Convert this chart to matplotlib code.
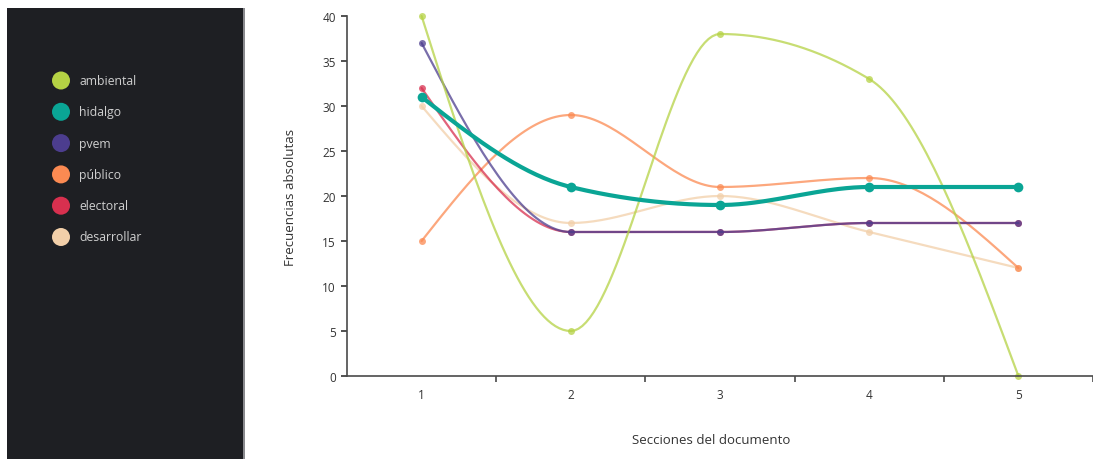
import numpy as np
import matplotlib
matplotlib.use("Agg")
import matplotlib.pyplot as plt
from matplotlib.patches import Rectangle, Ellipse

# ---- data ----
sections = [1, 2, 3, 4, 5]
series_names = ["ambiental", "hidalgo", "pvem", "público", "electoral", "desarrollar"]
ambiental = [40, 5, 38, 33, 0]
hidalgo = [31, 21, 19, 21, 21]
pvem = [37, 16, 16, 17, 17]
publico = [15, 29, 21, 22, 12]
electoral = [32, 16, 16, 17, 17]
desarrollar = [30, 17, 20, 16, 12]
y_ticks = [0, 5, 10, 15, 20, 25, 30, 35, 40]

colors = {
    "ambiental": "#b5d244",
    "hidalgo": "#0aa595",
    "pvem": "#4c3d8e",
    "público": "#fb8a52",
    "electoral": "#d8304f",
    "desarrollar": "#f2cfa9",
}
values = {
    "ambiental": ambiental,
    "hidalgo": hidalgo,
    "pvem": pvem,
    "público": publico,
    "electoral": electoral,
    "desarrollar": desarrollar,
}


def monotone_x(xs, ys, n=40):
    """d3.curveMonotoneX sampled."""
    xs = np.asarray(xs, float)
    ys = np.asarray(ys, float)
    m = len(xs)
    h = np.diff(xs)
    s = np.diff(ys) / h
    t = np.zeros(m)
    for i in range(1, m - 1):
        h0, h1 = h[i - 1], h[i]
        s0, s1 = s[i - 1], s[i]
        p = (s0 * h1 + s1 * h0) / (h0 + h1)
        t[i] = (np.sign(s0) + np.sign(s1)) * min(abs(s0), abs(s1), 0.5 * abs(p))
    t[0] = (3 * s[0] - t[1]) / 2
    t[-1] = (3 * s[-1] - t[-2]) / 2
    X, Y = [], []
    for i in range(m - 1):
        dx = h[i]
        x0, x1 = xs[i], xs[i + 1]
        p0 = (x0, ys[i])
        p1 = (x0 + dx / 3, ys[i] + dx * t[i] / 3)
        p2 = (x1 - dx / 3, ys[i + 1] - dx * t[i + 1] / 3)
        p3 = (x1, ys[i + 1])
        u = np.linspace(0, 1, n)
        bx = (1 - u) ** 3 * p0[0] + 3 * (1 - u) ** 2 * u * p1[0] + 3 * (1 - u) * u ** 2 * p2[0] + u ** 3 * p3[0]
        by = (1 - u) ** 3 * p0[1] + 3 * (1 - u) ** 2 * u * p1[1] + 3 * (1 - u) * u ** 2 * p2[1] + u ** 3 * p3[1]
        X.extend(bx)
        Y.extend(by)
    return np.array(X), np.array(Y)


W, H = 1093, 460
fig = plt.figure(figsize=(W / 100, H / 100), dpi=100)
fig.patch.set_facecolor("white")

# dark legend panel
fig.patches.append(Rectangle((7 / W, 0), (243 - 7) / W, (H - 9) / H,
                             transform=fig.transFigure, facecolor="#1e1f23",
                             edgecolor="none", zorder=0))
fig.patches.append(Rectangle((243 / W, 0), 2 / W, (H - 9) / H,
                             transform=fig.transFigure, facecolor="#8a8a8e",
                             edgecolor="none", zorder=0))

# legend
leg_y0 = 81.5
for i, name in enumerate(series_names):
    yc = leg_y0 + i * 31.3
    fig.patches.append(Ellipse((61 / W, 1 - yc / H), 18 / W, 18 / H, transform=fig.transFigure,
                               facecolor=colors[name], edgecolor="none"))
    fig.text(79 / W, 1 - yc / H, name, color="#cfcfcf", fontsize=8.8,
             family="Open Sans", va="center", ha="left")

# plot axes
left_px, bottom_px, top_px = 347, 377, 17
unit_px = 150.3
ax = fig.add_axes([left_px / W, (H - bottom_px) / H, (W - left_px) / W, (bottom_px - top_px) / H])
ax.set_xlim(0.5, 0.5 + (W - left_px) / unit_px)
ax.set_ylim(0, 40)
for sp in ["top", "right"]:
    ax.spines[sp].set_visible(False)
for sp in ["left", "bottom"]:
    ax.spines[sp].set_color("#4a4a4a")
    ax.spines[sp].set_linewidth(1.2)

ax.set_yticks(y_ticks)
ax.set_yticklabels([str(v) for v in y_ticks])
ax.set_xticks(sections)
ax.set_xticklabels([str(v) for v in sections])
ax.tick_params(axis="x", length=0, pad=9, labelsize=8.5, colors="#333333")
ax.tick_params(axis="y", length=4, width=1.2, pad=4, labelsize=8.5, colors="#333333")
for lab in ax.get_xticklabels() + ax.get_yticklabels():
    lab.set_family("Open Sans")
# band boundary ticks on x axis
bounds = [s + 0.5 for s in sections]
ax.set_xticks(bounds, minor=True)
ax.tick_params(axis="x", which="minor", length=4, width=1.2, color="#4a4a4a")

ax.set_ylabel("Frecuencias absolutas", fontsize=9.5, family="Open Sans", color="#333333")
ax.set_xlabel("Secciones del documento", fontsize=9.5, family="Open Sans", color="#333333")
ax.xaxis.set_label_coords((711 - left_px) / (W - left_px), -(434 - bottom_px) / (bottom_px - top_px))
ax.yaxis.set_label_coords(-(left_px - 297) / (W - left_px), 0.5)

draw_order = ["desarrollar", "público", "electoral", "pvem", "ambiental", "hidalgo"]
for name in draw_order:
    ys = values[name]
    cx, cy = monotone_x(sections, ys)
    if name == "hidalgo":
        lw, ms, alpha = 3.0, 7, 1.0
    else:
        lw, ms, alpha = 1.6, 5, 0.75
    ax.plot(cx, cy, color=colors[name], lw=lw, alpha=alpha, clip_on=False, solid_capstyle="round")
    ax.plot(sections, ys, "o", color=colors[name], ms=ms, alpha=alpha, clip_on=False, mec="none")

fig.savefig("out.png", dpi=100)
